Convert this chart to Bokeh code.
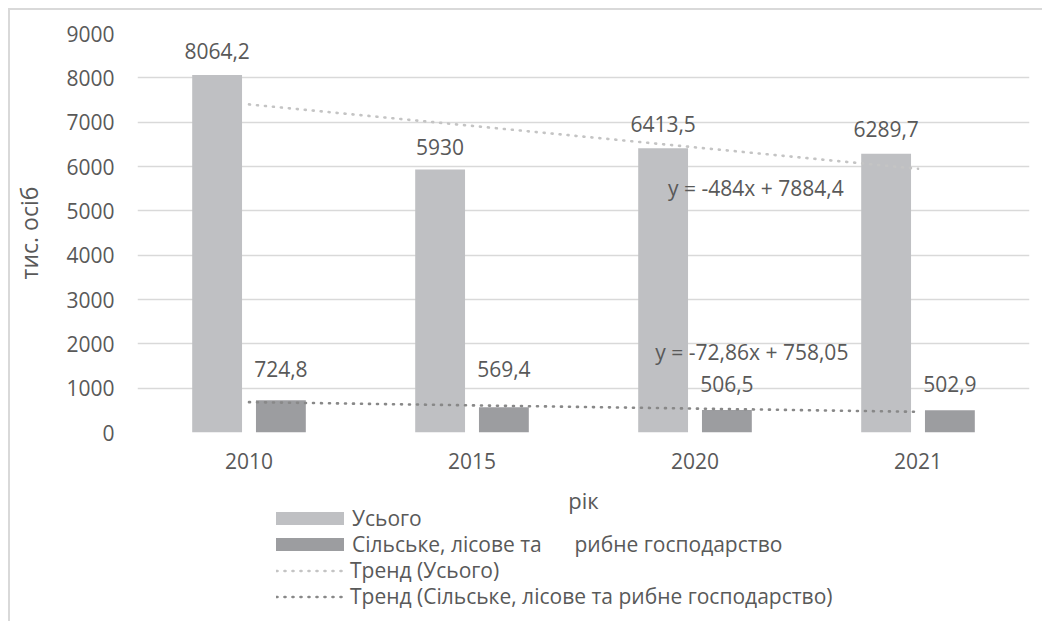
import numpy as np
from bokeh.plotting import figure
from bokeh.layouts import column
from bokeh.models import (ColumnDataSource, Legend, LegendItem, Label,
                          FixedTicker, Range1d)
from bokeh.core.properties import value
from bokeh.embed import file_html
from bokeh.resources import INLINE

# ---- data ----
years = ["2010", "2015", "2020", "2021"]
total = [8064.2, 5930.0, 6413.5, 6289.7]
agri = [724.8, 569.4, 506.5, 502.9]
series_names = ["Усього",
                "Сільське, лісове та\u00a0\u00a0\u00a0\u00a0\u00a0 рибне господарство",
                "Тренд (Усього)",
                "Тренд (Сільське, лісове та рибне господарство)"]
eq_total = "y = -484x + 7884,4"
eq_agri = "y = -72,86x + 758,05"
x_title = "рік"
y_title = "тис. осіб"
y_ticks = [0, 1000, 2000, 3000, 4000, 5000, 6000, 7000, 8000, 9000]

FONT = "Open Sans"
TXT = "#595959"
C_TOTAL = "#bfc0c3"
C_AGRI = "#9c9da0"
C_TR1 = "#c4c4c4"
C_TR2 = "#888888"

xpos = np.arange(1, len(years) + 1)
fmt = lambda v: f"{v:g}".replace(".", ",")

bar_w = 0.2235
off = 0.143
W = 1032
ML, MR = 124, 13

src_t = ColumnDataSource(dict(x=xpos - off, top=total, lab=[fmt(v) for v in total],
                              yo=[-24, -23, -24, -25]))
src_a = ColumnDataSource(dict(x=xpos + off, top=agri, lab=[fmt(v) for v in agri],
                              yo=[-31, -38, -26, -26]))

p = figure(width=W, height=476, x_range=Range1d(0.5, 4.5), y_range=Range1d(0, 9000),
           output_backend="svg", toolbar_location=None,
           min_border_left=ML, min_border_right=MR, min_border_top=23,
           min_border_bottom=54)
p.outline_line_color = None
p.xgrid.grid_line_color = None
p.ygrid.grid_line_color = "#d9d9d9"
p.ygrid.grid_line_width = 1.5

for ax in (p.xaxis, p.yaxis):
    ax.axis_line_color = None
    ax.major_tick_line_color = None
    ax.minor_tick_line_color = None
    ax.major_tick_out = 0
    ax.major_tick_in = 0
    ax.major_label_text_font = FONT
    ax.major_label_text_color = TXT
    ax.major_label_text_font_size = "21px"
    ax.axis_label_text_font = FONT
    ax.axis_label_text_color = TXT
    ax.axis_label_text_font_style = "normal"

p.yaxis.ticker = FixedTicker(ticks=y_ticks)
p.yaxis.major_label_standoff = 23
p.yaxis.axis_label = y_title
p.yaxis.axis_label_text_font_size = "23px"
p.yaxis.axis_label_standoff = 18

p.xaxis.ticker = FixedTicker(ticks=list(xpos))
p.xaxis.major_label_overrides = {int(i): y for i, y in zip(xpos, years)}
p.xaxis.major_label_standoff = 20

p.vbar(x="x", top="top", width=bar_w, source=src_t, fill_color=C_TOTAL, line_color=None)
p.vbar(x="x", top="top", width=bar_w, source=src_a, fill_color=C_AGRI, line_color=None)

# linear trends (least squares over the data, as in the chart)
k1, b1 = np.polyfit(xpos, total, 1)
k2, b2 = np.polyfit(xpos, agri, 1)
tx = [xpos[0], xpos[-1]]
ty1 = [k1 * x + b1 for x in tx]
ty2 = [k2 * x + b2 for x in tx]
line1 = dict(line_color=C_TR1, line_width=2.6, line_dash="1 7", line_cap="round")
line2 = dict(line_color=C_TR2, line_width=2.6, line_dash="1 7", line_cap="round")
p.line(tx, ty1, **line1)
p.line(tx, ty2, **line2)

for s in (src_t, src_a):
    p.text(x="x", y="top", text="lab", source=s, y_offset="yo", text_align="center",
           text_baseline="alphabetic", text_font=value(FONT), text_font_size="21px",
           text_color=TXT)

p.add_layout(Label(x=3.273, y=5504, text=eq_total, text_align="center", text_baseline="middle",
                   text_font=FONT, text_font_size="21px", text_color=TXT))
p.add_layout(Label(x=3.255, y=1827, text=eq_agri, text_align="center", text_baseline="middle",
                   text_font=FONT, text_font_size="21px", text_color=TXT))

# ---- lower panel: x-axis title and legend (frame aligned with the chart's frame) ----
LH = 135
lg = figure(width=W, height=LH, x_range=Range1d(ML, W - MR), y_range=Range1d(0, LH),
            output_backend="svg", toolbar_location=None,
            min_border_left=ML, min_border_right=MR, min_border_top=0, min_border_bottom=0,
            x_axis_location=None, y_axis_location=None)
lg.grid.visible = False
lg.outline_line_color = None

lg.add_layout(Label(x=(ML + W - MR) / 2, y=LH - 13, text=x_title, text_align="center",
                    text_baseline="middle", text_font=FONT, text_font_size="22px",
                    text_color=TXT))

# legend proxies (hidden; only their styles feed the legend swatches)
d_t = lg.vbar(x="x", top="top", width=bar_w, source=src_t, fill_color=C_TOTAL, line_color=None)
d_a = lg.vbar(x="x", top="top", width=bar_w, source=src_a, fill_color=C_AGRI, line_color=None)
d_l1 = lg.line(tx, ty1, **line1)
d_l2 = lg.line(tx, ty2, **line2)
for r in (d_t, d_a, d_l1, d_l2):
    r.visible = False

common = dict(orientation="vertical", padding=0, margin=0,
              border_line_color=None, background_fill_alpha=0,
              label_text_font=FONT, label_text_font_size="21px",
              label_text_color=TXT)
specs = [(series_names[0], d_t, 130, 89, 85, 16, 0),
         (series_names[1], d_a, 130, 63, 85, 16, 0),
         (series_names[2], d_l1, 139, 37, 68, 13, 6),
         (series_names[3], d_l2, 139, 11, 68, 13, 6)]
for lab, r, vx, vy, gw, gh, st in specs:
    lg.add_layout(Legend(items=[LegendItem(label=lab, renderers=[r])], location=(vx, vy),
                         glyph_width=gw, glyph_height=gh, label_standoff=st, **common),
                  "center")

layout = column(p, lg, spacing=0,
                styles={"margin-left": "8px", "margin-top": "8px",
                        "border-top": "2px solid #d9d9d9",
                        "border-left": "2px solid #d9d9d9"})

open("out.html", "w").write(file_html(layout, INLINE))
